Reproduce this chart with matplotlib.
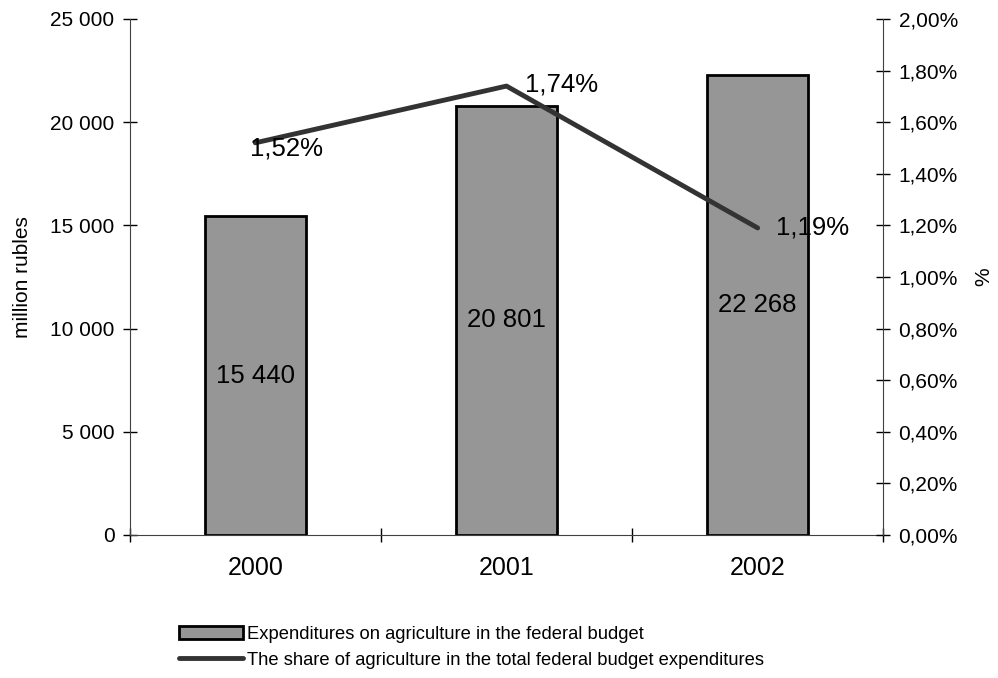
import numpy as np
import matplotlib.pyplot as plt
from matplotlib.ticker import FuncFormatter

### Data ###

years = ['2000', '2001', '2002']
spend = [15440, 20801, 22268]          # million rubles
share = [1.52, 1.74, 1.19]             # % of federal budget
spend_labels = ['15 440', '20 801', '22 268']
share_labels = ['1,52%', '1,74%', '1,19%']
share_offsets = [(-4, -4), (13, 1), (13, 0)]   # label offsets in points

plt.rcParams['font.family'] = ['Liberation Sans', 'DejaVu Sans']

fig = plt.figure(figsize=(9.98, 6.78), dpi=100)
ax = fig.add_axes([0.130, 0.211, 0.755, 0.761])
ax2 = ax.twinx()

x = np.arange(len(years))

# bars on the left axis
bars = ax.bar(x, spend, width=0.4, color='#969696', edgecolor='black', linewidth=2,
              label='Expenditures on agriculture in the federal budget', zorder=2)
for xi, v, lab in zip(x, spend, spend_labels):
    ax.text(xi, v / 2, lab, ha='center', va='center', fontsize=18.5)

ax.set_xlim(-0.5, len(years) - 0.5)
ax.set_ylim(0, 25000)
ax.set_yticks(np.arange(0, 25001, 5000))
ax.yaxis.set_major_formatter(FuncFormatter(lambda v, p: f'{int(v):,}'.replace(',', ' ')))
ax.set_xticks(x)
ax.set_xticklabels(years, fontsize=18)
ax.set_xticks(np.arange(-0.5, len(years), 1.0), minor=True)
ax.tick_params(axis='x', which='major', length=0, pad=15)
ax.tick_params(axis='x', which='minor', direction='inout', length=10, width=1)
ax.tick_params(axis='y', direction='inout', length=10, width=1, labelsize=15, pad=6)
ax.set_ylabel('million rubles', fontsize=15, labelpad=13)

for s in ['top', 'right']:
    ax.spines[s].set_visible(False)
for s in ['left', 'bottom']:
    ax.spines[s].set_color('#404040')

# line on the right axis
line, = ax2.plot(x, share, color='#333333', linewidth=3.5, solid_capstyle='round',
                 label='The share of agriculture in the total federal budget expenditures', zorder=3)
for xi, v, lab, off in zip(x, share, share_labels, share_offsets):
    ax2.annotate(lab, (xi, v), xytext=off, textcoords='offset points',
                 ha='left', va='center', fontsize=18.5)

ax2.set_ylim(0, 2.0)
ax2.set_yticks(np.arange(0, 2.01, 0.2))
ax2.yaxis.set_major_formatter(FuncFormatter(lambda v, p: f'{v:.2f}%'.replace('.', ',')))
ax2.tick_params(axis='y', direction='inout', length=10, width=1, labelsize=15, pad=6)
ax2.set_ylabel('%', fontsize=15, labelpad=12)
for s in ['top', 'left', 'bottom']:
    ax2.spines[s].set_visible(False)
ax2.spines['right'].set_color('#404040')

fig.legend(handles=[bars, line], loc='upper left', bbox_to_anchor=(0.172, 0.088),
           frameon=False, fontsize=13.2, handlelength=3.5, handletextpad=0.2,
           labelspacing=0.5, borderaxespad=0)

fig.savefig('out.png', dpi=100)
